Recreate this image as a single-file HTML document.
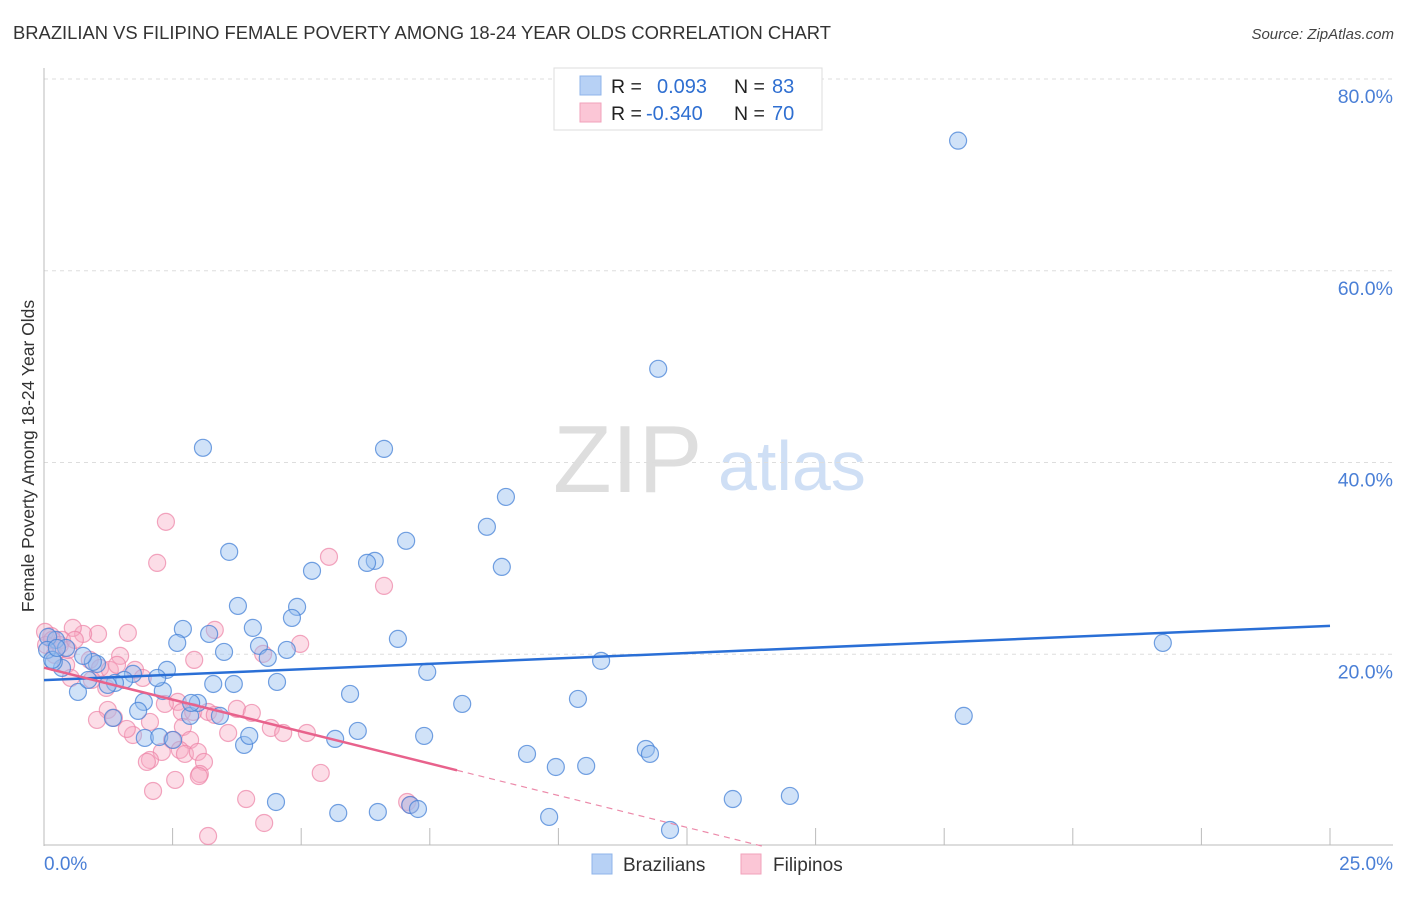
<!DOCTYPE html>
<html><head><meta charset="utf-8"><style>
body{margin:0;background:#fff;font-family:"Liberation Sans",sans-serif;}
svg text{font-family:"Liberation Sans",sans-serif;}
</style></head><body>
<svg id="chart" width="1406" height="892" viewBox="0 0 1406 892" xmlns="http://www.w3.org/2000/svg">
<text x="13" y="39" font-size="18.4" fill="#333">BRAZILIAN VS FILIPINO FEMALE POVERTY AMONG 18-24 YEAR OLDS CORRELATION CHART</text>
<text x="1394" y="39" font-size="15" fill="#444" text-anchor="end" font-style="italic">Source: ZipAtlas.com</text>
<g>
<text x="553" y="492" font-size="96" fill="#dedede" font-family="Liberation Serif, serif">ZIP</text>
<text x="718" y="490" font-size="70" fill="#cfdff5">atlas</text>
</g>
<g id="grid"></g>
<g id="axes"></g>
<g id="points"></g>
<g id="lines"></g>
<text transform="translate(34,456) rotate(-90)" font-size="17.5" fill="#333" text-anchor="middle">Female Poverty Among 18-24 Year Olds</text>
<g>
<rect x="554" y="68" width="268" height="62" fill="#fff" stroke="#ddd"/>
<rect x="580" y="76" width="21" height="19" fill="#b7d1f5" stroke="#8fb4ea"/>
<rect x="580" y="103" width="21" height="19" fill="#fbc6d6" stroke="#f2a2bb"/>
<text x="611" y="93" font-size="19.5" fill="#222">R = </text><text x="657" y="93" font-size="20" fill="#2f6fd1">0.093</text>
<text x="734" y="93" font-size="19.5" fill="#222">N = </text><text x="772" y="93" font-size="20" fill="#2f6fd1">83</text>
<text x="611" y="120" font-size="19.5" fill="#222">R = </text><text x="646" y="120" font-size="20" fill="#2f6fd1">-0.340</text>
<text x="734" y="120" font-size="19.5" fill="#222">N = </text><text x="772" y="120" font-size="20" fill="#2f6fd1">70</text>
</g>
<g>
<rect x="592" y="854" width="20" height="20" fill="#b7d1f5" stroke="#8fb4ea"/>
<text x="623" y="871" font-size="19" fill="#333">Brazilians</text></g>
<g>
<rect x="741" y="854" width="20" height="20" fill="#fbc6d6" stroke="#f2a2bb"/>
<text x="773" y="871" font-size="19" fill="#333">Filipinos</text></g>
</svg>
<script>
const yTicks=[20,40,60,80];
const yTickLabels=["20.0%","40.0%","60.0%","80.0%"];
const xTickStep=2.5;
const xLabels=["0.0%","25.0%"];
const braX=[17.77,11.94,3.09,6.61,8.98,8.61,7.04,3.60,6.43,6.28,5.21,8.90,3.77,4.92,4.82,2.70,4.06,3.21,6.88,2.59,4.18,4.72,3.50,4.35,10.83,21.75,7.45,2.39,3.29,3.69,4.53,5.95,10.38,8.13,17.88,2.84,3.42,2.99,2.86,2.31,1.94,1.83,1.34,2.20,1.73,1.56,1.38,1.24,1.03,0.95,0.76,0.66,0.35,0.19,0.23,0.08,0.43,0.86,1.96,2.24,2.51,3.89,3.99,5.66,6.10,7.39,9.39,9.95,10.54,11.70,11.78,4.51,5.72,6.49,7.12,7.27,9.82,12.17,13.39,14.50,0.06,0.16,0.25];
const braY=[73.57,49.77,41.53,41.42,36.41,33.29,31.83,30.68,29.74,29.53,28.70,29.11,25.04,24.94,23.79,22.64,22.75,22.12,21.60,21.18,20.87,20.45,20.24,19.62,19.31,21.18,18.16,18.37,16.90,16.90,17.11,15.86,15.34,14.82,13.57,13.57,13.57,14.92,14.92,16.17,15.03,14.09,13.36,17.53,17.95,17.32,17.01,16.80,18.99,19.20,19.83,16.07,18.57,19.20,21.50,21.81,20.66,17.32,11.27,11.37,11.06,10.54,11.48,11.17,12.00,11.48,9.60,8.24,8.35,10.12,9.60,4.59,3.44,3.55,4.28,3.86,3.03,1.67,4.90,5.22,20.45,19.41,20.66];
const filX=[2.37,2.20,5.54,6.61,1.63,1.05,0.76,0.56,0.35,0.14,0.02,0.04,0.21,0.43,0.52,0.89,1.09,1.28,1.48,1.42,1.77,1.21,0.93,1.92,3.32,4.98,2.92,4.26,2.60,1.24,1.03,1.36,1.73,1.61,2.06,2.68,2.35,2.90,3.19,3.32,3.58,3.75,4.04,4.41,4.65,5.11,2.70,2.84,2.49,2.64,2.29,2.06,2.00,2.74,2.99,3.11,2.55,3.03,3.01,2.12,3.93,4.28,3.19,5.38,7.06,7.12,0.16,0.31,0.47,0.60];
const filY=[33.81,29.53,30.16,27.13,22.23,22.12,22.12,22.75,21.50,21.91,22.33,20.97,19.93,18.89,17.53,19.41,18.57,18.37,19.83,18.89,18.37,16.49,17.32,17.53,22.54,21.08,19.41,20.04,15.03,14.19,13.15,13.36,11.58,12.21,12.94,13.98,14.82,13.98,13.98,13.67,11.79,14.30,13.88,12.31,11.79,11.79,12.42,11.06,11.06,10.02,9.81,8.97,8.77,9.60,9.81,8.77,6.89,7.51,7.30,5.74,4.90,2.40,1.04,7.62,4.59,4.28,21.50,20.97,20.45,21.50];
const braTrend=[17.3,22.96];
const filTrend=[18.6,-1.333,8.03];

const NS="http://www.w3.org/2000/svg";
const X0=44,X1=1330,Y0=846,Y80=79;
function sx(v){return X0+v/25*(X1-X0);}
function sy(v){return Y0-v/80*(Y0-Y80);}
function mk(tag,attrs,parent){const e=document.createElementNS(NS,tag);for(const k in attrs)e.setAttribute(k,attrs[k]);parent.appendChild(e);return e;}
const grid=document.getElementById('grid'),axes=document.getElementById('axes'),pts=document.getElementById('points'),lines=document.getElementById('lines');
yTicks.forEach((t,i)=>{
  const g=mk('line',{x1:X0,x2:1393,y1:sy(t),y2:sy(t),stroke:'#ddd','stroke-dasharray':'4,4'},grid);
  
  
  const l=mk('text',{x:1393,y:sy(t)+24,'font-size':19.5,fill:'#4a7fd6','text-anchor':'end'},grid);
  l.textContent=yTickLabels[i];
  
  
});
const ax=mk('line',{x1:X0,x2:X0,y1:68,y2:Y0,stroke:'#bbb'},axes);


const bx=mk('line',{x1:X0,x2:1393,y1:845,y2:845,stroke:'#bbb'},axes);


for(let v=xTickStep;v<=25.001;v+=xTickStep){
  const t=mk('line',{x1:sx(v),x2:sx(v),y1:828,y2:845,stroke:'#bbb'},axes);
  
  
}
const xl0=mk('text',{x:44,y:870,'font-size':19,fill:'#4a7fd6'},axes);xl0.textContent=xLabels[0];


const xl1=mk('text',{x:1393,y:870,'font-size':19,fill:'#4a7fd6','text-anchor':'end'},axes);xl1.textContent=xLabels[1];


function dots(xs,ys,fill,stroke,name){
  xs.forEach((x,i)=>{
    const c=mk('circle',{cx:sx(x),cy:sy(ys[i]),r:8.5,fill:fill,stroke:stroke,'stroke-width':1.2},pts);
    
    
  });
}
dots(filX,filY,'rgba(248,170,195,0.4)','rgba(236,130,165,0.7)','filipino-point');
dots(braX,braY,'rgba(150,190,240,0.45)','rgba(70,130,215,0.75)','brazilian-point');
const bl=mk('line',{x1:sx(0),y1:sy(braTrend[0]),x2:sx(25),y2:sy(braTrend[1]),stroke:'#2a6fd6','stroke-width':2.5},lines);


const xe=filTrend[2],xz=-filTrend[0]/filTrend[1];
const pl=mk('line',{x1:sx(0),y1:sy(filTrend[0]),x2:sx(xe),y2:sy(filTrend[0]+filTrend[1]*xe),stroke:'#e8628c','stroke-width':2.5},lines);


const pd=mk('line',{x1:sx(xe),y1:sy(filTrend[0]+filTrend[1]*xe),x2:sx(xz),y2:sy(0),stroke:'#ec8aaa','stroke-width':1.2,'stroke-dasharray':'6,5'},lines);


</script>
</body></html>
